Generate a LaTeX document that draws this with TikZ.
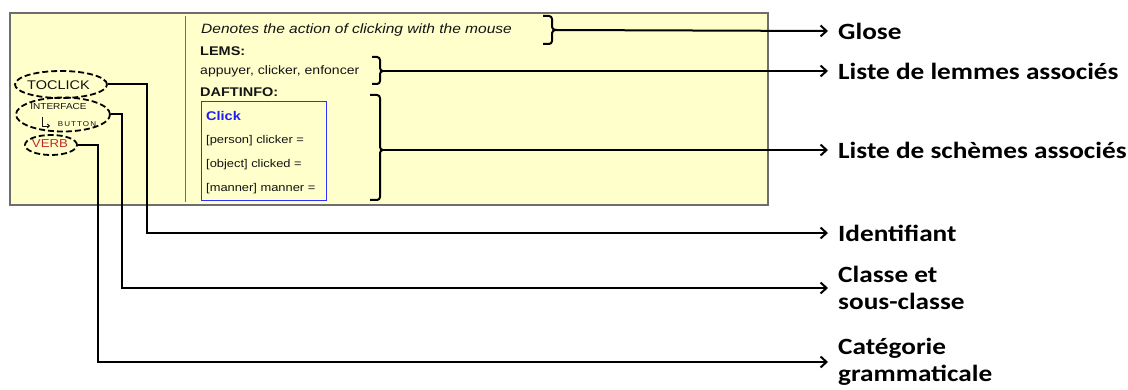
\documentclass[tikz,border=0pt]{standalone}
\usepackage{fontspec}
\usetikzlibrary{shapes.geometric,arrows.meta}
\newfontfamily\arialf[FakeStretch=1.15]{Liberation Sans}
\newfontfamily\calf[FakeStretch=1.17]{Carlito}
\definecolor{panelfill}{HTML}{FFFFCC}
\definecolor{panelbd}{HTML}{6E6E6E}
\definecolor{verbred}{HTML}{C0282A}
\definecolor{clickblue}{HTML}{1E1EF0}
\definecolor{boxblue}{HTML}{3030FF}
\definecolor{txt}{HTML}{141414}
% square-ish brace: #1 left x, #2 vertical x, #3 tip x, #4 top y, #5 mid y, #6 bottom y
\newcommand\sqbrace[6]{%
  \draw[line width=2pt, line join=round]
    (#1,#4) -- (#2-3,#4) to[out=0,in=90] (#2,#4+3) -- (#2,#5-3)
    to[out=-90,in=180] (#3,#5) to[out=180,in=90] (#2,#5+3)
    -- (#2,#6-3) to[out=-90,in=0] (#2-3,#6) -- (#1,#6);}
\begin{document}
\begin{tikzpicture}[x=1pt,y=-1pt,
  conn/.style={line width=2pt, black},
  arr/.style={conn, -{Straight Barb[length=6pt,width=11pt]}},
  lab/.style={anchor=west, inner xsep=10pt, inner ysep=0pt, font=\calf\bfseries\fontsize{23.3}{27}\selectfont, align=left, text=black},
  ptxt/.style={anchor=base west, inner sep=0pt, text=txt},
  ltxt/.style={inner sep=0pt, text=txt},
  dashell/.style={ellipse, draw, dash pattern=on 6pt off 3pt, line width=1.8pt, inner sep=0pt},
]
\useasboundingbox (0,0) rectangle (1128,390);
% panel
\draw[panelbd, fill=panelfill, line width=1.2pt] (10,13) rectangle (768,205);
\draw[panelbd, line width=1pt] (185,16) -- (185,202);
% panel texts
\node[ptxt, font=\arialf\itshape\fontsize{13.5}{16}\selectfont] (gloss) at (201,34) {Denotes the action of clicking with the mouse};
\node[ptxt, font=\arialf\bfseries\fontsize{12.6}{15}\selectfont] (lems) at (200,55.7) {LEMS:};
\node[ptxt, font=\arialf\fontsize{12.2}{15}\selectfont] (lemmes) at (200,75) {appuyer, clicker, enfoncer};
\node[ptxt, font=\arialf\bfseries\fontsize{12.6}{15}\selectfont] (daft) at (200,96.7) {DAFTINFO:};
\draw[boxblue, line width=1pt] (201,102) rectangle (326,201);
\node[ptxt, text=clickblue, font=\arialf\bfseries\fontsize{12.6}{15}\selectfont] (click) at (206,121) {Click};
\node[ptxt, font=\arialf\fontsize{11.2}{14}\selectfont] (s1) at (206,144) {[person] clicker =};
\node[ptxt, font=\arialf\fontsize{11.2}{14}\selectfont] (s2) at (206,167.7) {[object] clicked =};
\node[ptxt, font=\arialf\fontsize{11.2}{14}\selectfont] (s3) at (206,192) {[manner] manner =};
% braces
\sqbrace{543}{552}{556}{16}{30}{44}
\sqbrace{372}{380}{383}{57}{71}{84}
\sqbrace{370}{380}{383}{95}{150}{200}
\coordinate (bt1) at (556,30);
\coordinate (bt2) at (383,71);
\coordinate (bt3) at (383,150);
% left ellipses and texts
\node[dashell, minimum width=92pt, minimum height=27pt] (e1) at (61,84.5) {};
\node[dashell, minimum width=94pt, minimum height=34pt] (e2) at (63,114.5) {};
\node[dashell, minimum width=52pt, minimum height=20pt] (e3) at (51,145) {};
\node[ltxt, font=\arialf\fontsize{12.6}{15}\selectfont] (toclick) at (58.5,85) {TOCLICK};
\node[ltxt, font=\arialf\fontsize{8.7}{10}\selectfont] (interface) at (58.5,106.5) {INTERFACE};
\node[ltxt, font=\arialf\fontsize{7}{8}\selectfont\addfontfeature{LetterSpace=15}] (button) at (77,124) {BUTTON};
\draw[txt, line width=0.9pt, -{Straight Barb[length=2pt,width=4pt]}] (42.5,117) -- (42.5,126) -- (50,126);
\node[ltxt, text=verbred, font=\arialf\fontsize{11.5}{14}\selectfont] (verb) at (50,144) {VERB};
% labels
\node[lab] (glose) at (828,31) {Glose};
\node[lab] (llem) at (828,71) {Liste de lemmes associés};
\node[lab] (lsch) at (828,150) {Liste de schèmes associés};
\node[lab] (ident) at (828,233) {Identifiant};
\node[lab] (classe) at (828,288) {Classe et\\sous-classe};
\node[lab] (categ) at (828,362) {Catégorie\\grammaticale};
% connectors
\draw[arr] (bt1) -- (glose.west);
\draw[arr] (bt2) -- (llem.west);
\draw[arr] (bt3) -- (lsch.west);
\coordinate (k1) at (147,233);
\coordinate (k2) at (122,288);
\coordinate (k3) at (97.5,362);
\draw[arr] (e1.east) -| (k1) -- (ident.west);
\draw[arr] (e2.east) -| (k2) -- (classe.west);
\draw[arr] (e3.east) -| (k3) -- (categ.west);
\end{tikzpicture}
\end{document}
